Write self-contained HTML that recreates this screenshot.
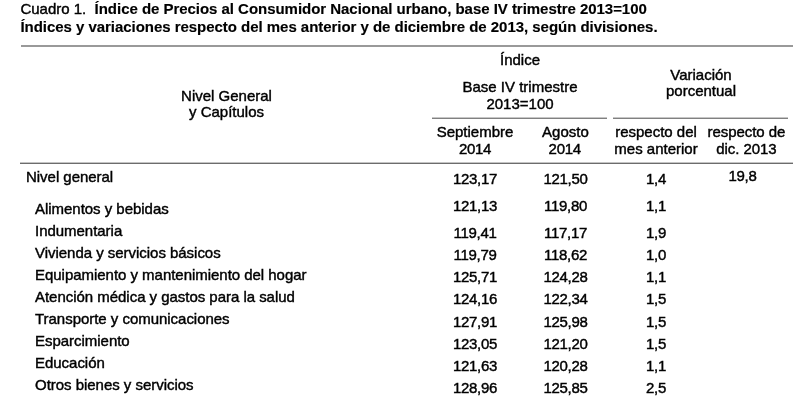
<!DOCTYPE html>
<html lang="es"><head><meta charset="utf-8"><title>Cuadro 1</title>
<style>
html,body{margin:0;padding:0;background:#fff;}
body{width:793px;height:402px;position:relative;overflow:hidden;font-family:"Liberation Sans",sans-serif;font-size:15px;color:#000;}
.t{position:absolute;white-space:nowrap;line-height:17px;-webkit-text-stroke:0.42px #000;}
.c{text-align:center;transform:translateX(-50%);}
.b{font-weight:bold;letter-spacing:-0.035px;-webkit-text-stroke:0.15px #000;}
.n{letter-spacing:-0.28px;}
.l{letter-spacing:-0.03px;}
.hr{position:absolute;height:2px;}
.h1{background:#999;}
.h2{background:linear-gradient(#c6c6c6 50%,#808080 50%);}
.h3{background:linear-gradient(#c4c4c4 50%,#6c6c6c 50%);}
</style></head><body>
<div class="t" style="left:20.4px;top:0px;">Cuadro 1.&nbsp; <span class="b">Índice de Precios al Consumidor Nacional urbano, base IV trimestre 2013=100</span></div>
<div class="t b" style="left:20.4px;top:18px;">Índices y variaciones respecto del mes anterior y de diciembre de 2013, según divisiones.</div>
<div class="hr h1" style="left:21px;top:45px;width:772px;"></div>
<div class="t c" style="left:226.5px;top:88px;line-height:16px;">Nivel General<br>y Capítulos</div>
<div class="t c" style="left:520px;top:51px;">Índice</div>
<div class="t c" style="left:520px;top:78px;">Base IV trimestre<br>2013=100</div>
<div class="t c" style="left:701px;top:67px;line-height:16px;">Variación<br>porcentual</div>
<div class="hr h2" style="left:432px;top:117px;width:175px;"></div>
<div class="hr h2" style="left:613px;top:117px;width:175px;"></div>
<div class="t c" style="left:475px;top:123px;">Septiembre<br><span class="n">2014</span></div>
<div class="t c" style="left:565.4px;top:123px;">Agosto<br><span class="n" style="position:relative;left:-0.7px">2014</span></div>
<div class="t c" style="left:656px;top:123px;">respecto del<br>mes anterior</div>
<div class="t c" style="left:746.4px;top:123px;letter-spacing:-0.07px;">respecto de<br>dic. 2013</div>
<div class="hr h3" style="left:20px;top:162px;width:773px;"></div>
<div class="t l" style="left:26px;top:168px;">Nivel general</div>
<div class="t l" style="left:35px;top:200px;">Alimentos y bebidas</div>
<div class="t l" style="left:35px;top:222px;">Indumentaria</div>
<div class="t l" style="left:35px;top:244px;">Vivienda y servicios básicos</div>
<div class="t l" style="left:35px;top:266px;">Equipamiento y mantenimiento del hogar</div>
<div class="t l" style="left:35px;top:288px;">Atención médica y gastos para la salud</div>
<div class="t l" style="left:35px;top:310px;">Transporte y comunicaciones</div>
<div class="t l" style="left:35px;top:332px;">Esparcimiento</div>
<div class="t l" style="left:35px;top:354px;">Educación</div>
<div class="t l" style="left:35px;top:376px;">Otros bienes y servicios</div>
<div class="t c n" style="left:475px;top:170px;">123,17</div>
<div class="t c n" style="left:565.5px;top:170px;">121,50</div>
<div class="t c n" style="left:656px;top:170px;">1,4</div>
<div class="t c n" style="left:475px;top:197px;">121,13</div>
<div class="t c n" style="left:565.5px;top:197px;">119,80</div>
<div class="t c n" style="left:656px;top:197px;">1,1</div>
<div class="t c n" style="left:475px;top:224px;">119,41</div>
<div class="t c n" style="left:565.5px;top:224px;">117,17</div>
<div class="t c n" style="left:656px;top:224px;">1,9</div>
<div class="t c n" style="left:475px;top:246px;">119,79</div>
<div class="t c n" style="left:565.5px;top:246px;">118,62</div>
<div class="t c n" style="left:656px;top:246px;">1,0</div>
<div class="t c n" style="left:475px;top:268px;">125,71</div>
<div class="t c n" style="left:565.5px;top:268px;">124,28</div>
<div class="t c n" style="left:656px;top:268px;">1,1</div>
<div class="t c n" style="left:475px;top:290px;">124,16</div>
<div class="t c n" style="left:565.5px;top:290px;">122,34</div>
<div class="t c n" style="left:656px;top:290px;">1,5</div>
<div class="t c n" style="left:475px;top:313px;">127,91</div>
<div class="t c n" style="left:565.5px;top:313px;">125,98</div>
<div class="t c n" style="left:656px;top:313px;">1,5</div>
<div class="t c n" style="left:475px;top:335px;">123,05</div>
<div class="t c n" style="left:565.5px;top:335px;">121,20</div>
<div class="t c n" style="left:656px;top:335px;">1,5</div>
<div class="t c n" style="left:475px;top:357px;">121,63</div>
<div class="t c n" style="left:565.5px;top:357px;">120,28</div>
<div class="t c n" style="left:656px;top:357px;">1,1</div>
<div class="t c n" style="left:475px;top:379px;">128,96</div>
<div class="t c n" style="left:565.5px;top:379px;">125,85</div>
<div class="t c n" style="left:656px;top:379px;">2,5</div>
<div class="t c n" style="left:742.5px;top:167px;">19,8</div>
</body></html>
